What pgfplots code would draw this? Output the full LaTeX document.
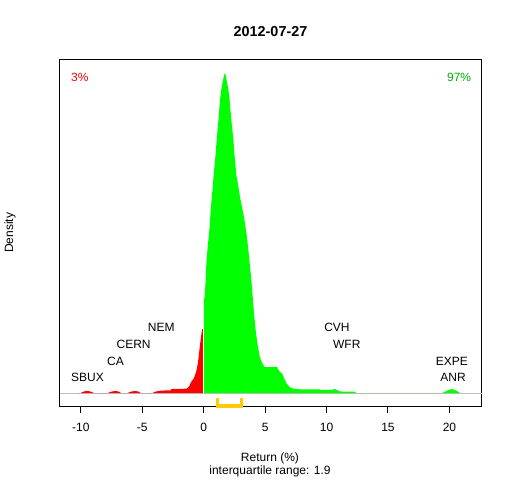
\documentclass[border=0pt]{standalone}
\usepackage{fontspec}
\setmainfont{Liberation Sans}
\usepackage{pgfplots}
\pgfplotsset{compat=1.18}
\definecolor{rred}{RGB}{255,0,0}
\definecolor{rgreen}{RGB}{0,255,0}
\definecolor{tgreen}{RGB}{0,176,0}
\definecolor{rgray}{RGB}{190,190,190}
\definecolor{rgold}{RGB}{255,204,0}
\newcommand\rf{\fontsize{12bp}{14bp}\selectfont}
\begin{document}
\begin{tikzpicture}[font=\rf]
\path[use as bounding box] (0,0) rectangle (512bp,480bp);
\begin{axis}[
  at={(59.5bp,74bp)}, anchor=south west,
  scale only axis, width=422bp, height=346bp,
  xmin=-11.73, xmax=22.61, ymin=-0.04, ymax=1.04,
  clip=false,
  axis line style={black, line width=1bp},
  xtick={-10,-5,0,5,10,15,20},
  xticklabels={-10,-5,0,5,10,15,20},
  ytick=\empty,
  xtick pos=left,
  tick align=outside,
  major tick length=7bp,
  every tick/.style={black, line width=1bp},
  xticklabel style={font=\rf, yshift=-7bp},
]
% gray baseline
\addplot[rgray, line width=1bp] coordinates {(-11.73,0) (22.61,0)};
% negative returns (red)
\addplot[fill=rred, draw=none] coordinates {
(-10.2,0) (-10.0,0) (-9.9,0.003) (-9.6,0.007) (-9.3,0.006) (-9.0,0.002) (-8.9,0)
(-7.8,0) (-7.6,0.004) (-7.2,0.007) (-6.9,0.005) (-6.7,0)
(-6.2,0) (-6.0,0.004) (-5.6,0.007) (-5.3,0.005) (-5.1,0)
(-4.2,0) (-3.9,0.005) (-3.5,0.008) (-2.7,0.009) (-2.6,0.013) (-1.4,0.014)
(-1.2,0.02) (-1.0,0.036) (-0.8,0.046) (-0.6,0.068) (-0.46,0.096) (-0.33,0.14)
(-0.2,0.18) (-0.12,0.2) (-0.07,0.2) (-0.07,0)
} \closedcycle;
% positive returns (green)
\addplot[fill=rgreen, draw=none] coordinates {
(0.02,0) (0.02,0.29) (0.08,0.30) (0.16,0.35) (0.22,0.405) (0.33,0.457) (0.49,0.52)
(0.57,0.57) (0.65,0.605) (0.73,0.64) (0.81,0.68) (0.90,0.715) (0.98,0.75)
(1.06,0.79) (1.14,0.825) (1.22,0.86) (1.30,0.90) (1.38,0.932) (1.47,0.955)
(1.55,0.972) (1.65,0.99) (1.73,1.0) (1.80,0.99) (1.90,0.97) (2.00,0.95) (2.09,0.925)
(2.17,0.89) (2.26,0.85) (2.42,0.79) (2.52,0.74) (2.66,0.68) (2.83,0.644)
(2.96,0.612) (3.07,0.59) (3.23,0.56) (3.36,0.53) (3.48,0.50) (3.61,0.457)
(3.75,0.405) (3.88,0.353) (3.99,0.301) (4.10,0.249) (4.23,0.197) (4.37,0.156)
(4.56,0.114) (4.78,0.093) (4.97,0.081) (5.46,0.081) (5.92,0.083) (6.19,0.067)
(6.38,0.062) (6.6,0.042) (6.73,0.031) (7.0,0.019) (7.27,0.014) (7.8,0.012)
(9.4,0.012) (9.5,0.010) (10.4,0.010) (10.66,0.013) (11.07,0.006) (11.3,0.005)
(12.3,0.005) (12.4,0) (19.4,0) (19.5,0.002) (19.8,0.008) (20.2,0.013)
(20.5,0.009) (20.8,0.002) (20.9,0)
} \closedcycle;
% interquartile range bracket
\addplot[rgold, line width=3bp] coordinates {(1.14,-0.0156) (1.14,-0.04) (3.07,-0.04) (3.07,-0.0156)};
% ticker labels
\node at (axis cs:-9.45,0.0486) {SBUX};
\node at (axis cs:-7.17,0.0984) {CA};
\node at (axis cs:-5.7,0.153) {CERN};
\node at (axis cs:-3.45,0.206) {NEM};
\node at (axis cs:10.85,0.206) {CVH};
\node at (axis cs:11.65,0.153) {WFR};
\node at (axis cs:20.2,0.0984) {EXPE};
\node at (axis cs:20.3,0.0486) {ANR};
\node[text=rred] at (rel axis cs:0.048,0.949) {3\%};
\node[text=tgreen] at (rel axis cs:0.947,0.949) {97\%};
\end{axis}
\node at (270.5bp,448.3bp) {\fontsize{14.4bp}{17bp}\selectfont\bfseries 2012-07-27};
\node[rotate=90] at (10bp,247.2bp) {Density};
\node at (270bp,21.7bp) {Return (\%)};
\node at (270bp,8.3bp) {interquartile range: 1.9};
\end{tikzpicture}
\end{document}
